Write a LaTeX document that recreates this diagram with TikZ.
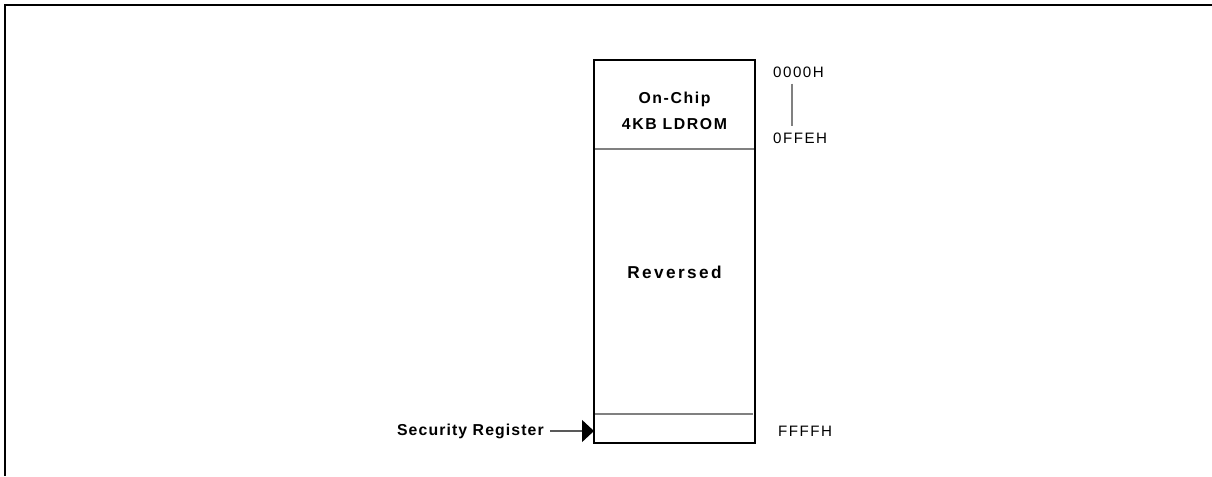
\documentclass[tikz,border=0pt]{standalone}
\usepackage{fontspec}
\setmainfont{Liberation Sans}
\usetikzlibrary{arrows.meta,positioning}
\definecolor{divider}{HTML}{808080}

\begin{document}
\begin{tikzpicture}[
    region/.style={rectangle,minimum width=3.22cm,inner sep=0pt,outer sep=0pt},
    title/.style={font=\fontsize{9}{14.8}\selectfont\bfseries\addfontfeatures{LetterSpace=10},align=center},
    bigtitle/.style={font=\fontsize{9.8}{11}\selectfont\bfseries\addfontfeatures{LetterSpace=14}},
    note/.style={font=\fontsize{9}{11}\selectfont\bfseries\addfontfeatures{LetterSpace=7}},
    addr/.style={font=\fontsize{8.6}{10}\selectfont\addfontfeatures{LetterSpace=10},anchor=west},
    divline/.style={divider,line width=0.6pt},
    frame/.style={line width=1.1pt},
    arr/.style={-{Triangle[length=0.24cm,width=0.44cm,color=black]},line width=0.6pt,black!65},
]
\useasboundingbox (0,0) rectangle (24.24,-9.52);
% outer frame (top and left only)
\draw[frame] (24.24,-0.1) -- (0.1,-0.1) -- (0.1,-9.52);

% memory map
\node[region,minimum height=1.78cm] (ldrom) at (13.49,-2.09) {};
\node[region,minimum height=5.30cm,below=0pt of ldrom] (rsv) {};
\node[region,minimum height=0.58cm,below=0pt of rsv] (sec) {};
\draw[divline] (ldrom.south west) -- (ldrom.south east);
\draw[divline] (sec.north west) -- ([xshift=-0.04cm]sec.north east);
\draw[line width=1.2pt] (ldrom.north west) rectangle (sec.south east);

\node[title] (ldromtxt) at (13.49,-2.22) {On-Chip\\4KB LDROM};
\node[bigtitle] (rsvtxt) at (13.49,-5.44) {Reversed};

% addresses
\node[addr] (a0000) at (15.34,-1.44) {0000H};
\node[addr] (a0ffe) at (15.34,-2.76) {0FFEH};
\node[addr] (affff) at (15.44,-8.62) {FFFFH};
\draw[divline] ([xshift=0.5cm]a0000.south west) -- ([xshift=0.5cm]a0000.south west |- a0ffe.north);

% security register
\node[note,anchor=east] (secreg) at (11.0,-8.62) {Security Register};
\draw[arr] (secreg.east) -- (secreg.east -| sec.west);
\end{tikzpicture}
\end{document}
